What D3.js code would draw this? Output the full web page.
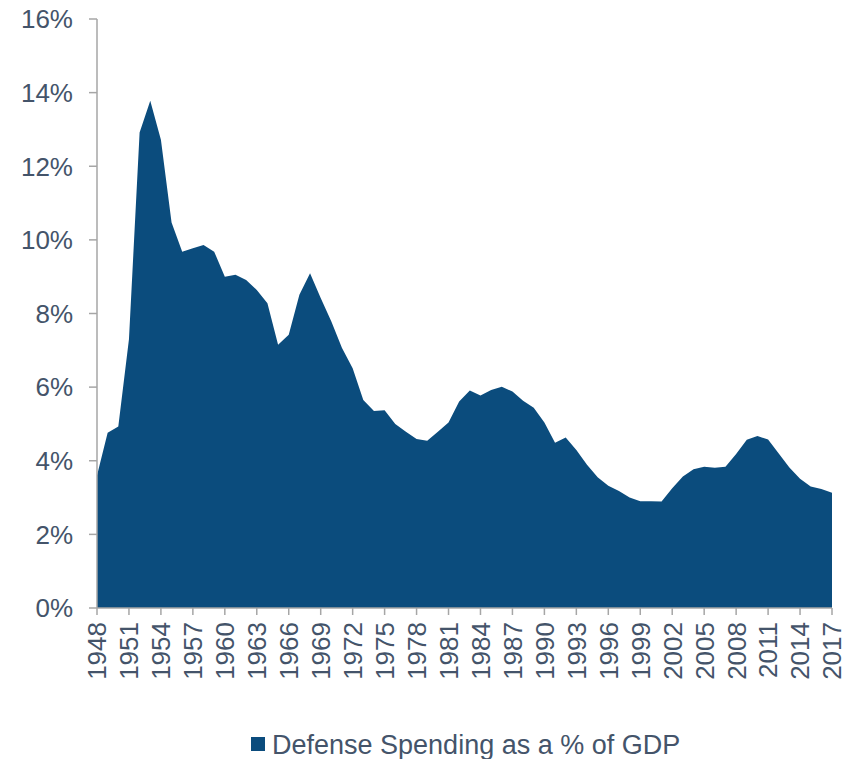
<!DOCTYPE html>
<html>
<head>
<meta charset="utf-8">
<script src="https://cdn.jsdelivr.net/npm/d3@7"></script>
<style>
  body { margin: 0; background: #fff; }
  svg { display: block; }
</style>
</head>
<body>
<svg id="chart" width="856" height="759"></svg>
<script>
const years = d3.range(1948, 2018);
const defenseShare = [
  3.6, 4.76, 4.93, 7.3, 12.92, 13.78, 12.72, 10.47, 9.68, 9.77,
  9.86, 9.68, 9.0, 9.05, 8.91, 8.64, 8.28, 7.15, 7.42, 8.51,
  9.09, 8.42, 7.78, 7.06, 6.51, 5.65, 5.35, 5.37, 5.0, 4.79,
  4.59, 4.54, 4.79, 5.04, 5.61, 5.91, 5.77, 5.92, 6.01, 5.88,
  5.63, 5.44, 5.04, 4.49, 4.63, 4.29, 3.89, 3.55, 3.32, 3.18,
  3.0, 2.9, 2.9, 2.89, 3.25, 3.57, 3.77, 3.84, 3.81, 3.84,
  4.18, 4.57, 4.67, 4.58, 4.2, 3.82, 3.51, 3.3, 3.23, 3.13
];
const yTicks = [0, 2, 4, 6, 8, 10, 12, 14, 16];
const xTickYears = years.filter((y) => (y - 1948) % 3 === 0);
const seriesName = 'Defense Spending as a % of GDP';

const FILL = '#0b4c7d';
const TEXT = '#44546a';
const AXIS = '#a6a6a6';
const FONT = '"Liberation Sans", Arial, sans-serif';

const svg = d3.select('#chart');
const plot = { left: 97, right: 832, top: 19, bottom: 608 };

const x = d3.scaleLinear().domain([1948, 2017]).range([plot.left, plot.right]);
const y = d3.scaleLinear().domain([0, 16]).range([plot.bottom, plot.top]);

const data = years.map((yr, i) => ({ year: yr, value: defenseShare[i] }));

const area = d3.area()
  .x((d) => x(d.year))
  .y0(y(0))
  .y1((d) => y(d.value));

svg.append('path')
  .datum(data)
  .attr('d', area)
  .attr('fill', FILL);

// y axis
const yAxis = svg.append('g');
yAxis.append('line')
  .attr('x1', plot.left).attr('x2', plot.left)
  .attr('y1', plot.top).attr('y2', plot.bottom)
  .attr('stroke', AXIS).attr('stroke-width', 1.5);

yTicks.forEach((t) => {
  yAxis.append('line')
    .attr('x1', plot.left - 8).attr('x2', plot.left)
    .attr('y1', y(t)).attr('y2', y(t))
    .attr('stroke', AXIS).attr('stroke-width', 1.5);
  yAxis.append('text')
    .attr('x', 73)
    .attr('y', y(t))
    .attr('dy', '0.36em')
    .attr('text-anchor', 'end')
    .attr('fill', TEXT)
    .attr('font-size', '26px')
    .attr('font-family', FONT)
    .text(t + '%');
});

// x axis
const xAxis = svg.append('g');
xAxis.append('line')
  .attr('x1', plot.left).attr('x2', plot.right)
  .attr('y1', plot.bottom).attr('y2', plot.bottom)
  .attr('stroke', AXIS).attr('stroke-width', 1.5);

xTickYears.forEach((yr) => {
  xAxis.append('line')
    .attr('x1', x(yr)).attr('x2', x(yr))
    .attr('y1', plot.bottom).attr('y2', plot.bottom + 7)
    .attr('stroke', AXIS).attr('stroke-width', 1.5);
  xAxis.append('text')
    .attr('transform', `translate(${x(yr)},${plot.bottom + 14}) rotate(-90)`)
    .attr('dy', '0.36em')
    .attr('text-anchor', 'end')
    .attr('fill', TEXT)
    .attr('font-size', '26px')
    .attr('font-family', FONT)
    .text(yr);
});

// legend
const legend = svg.append('g');
legend.append('rect')
  .attr('x', 251).attr('y', 737)
  .attr('width', 14).attr('height', 14)
  .attr('fill', FILL);
legend.append('text')
  .attr('x', 272)
  .attr('y', 744)
  .attr('dy', '0.36em')
  .attr('fill', TEXT)
  .attr('font-size', '27px')
  .attr('font-family', FONT)
  .text(seriesName);
</script>
</body>
</html>
